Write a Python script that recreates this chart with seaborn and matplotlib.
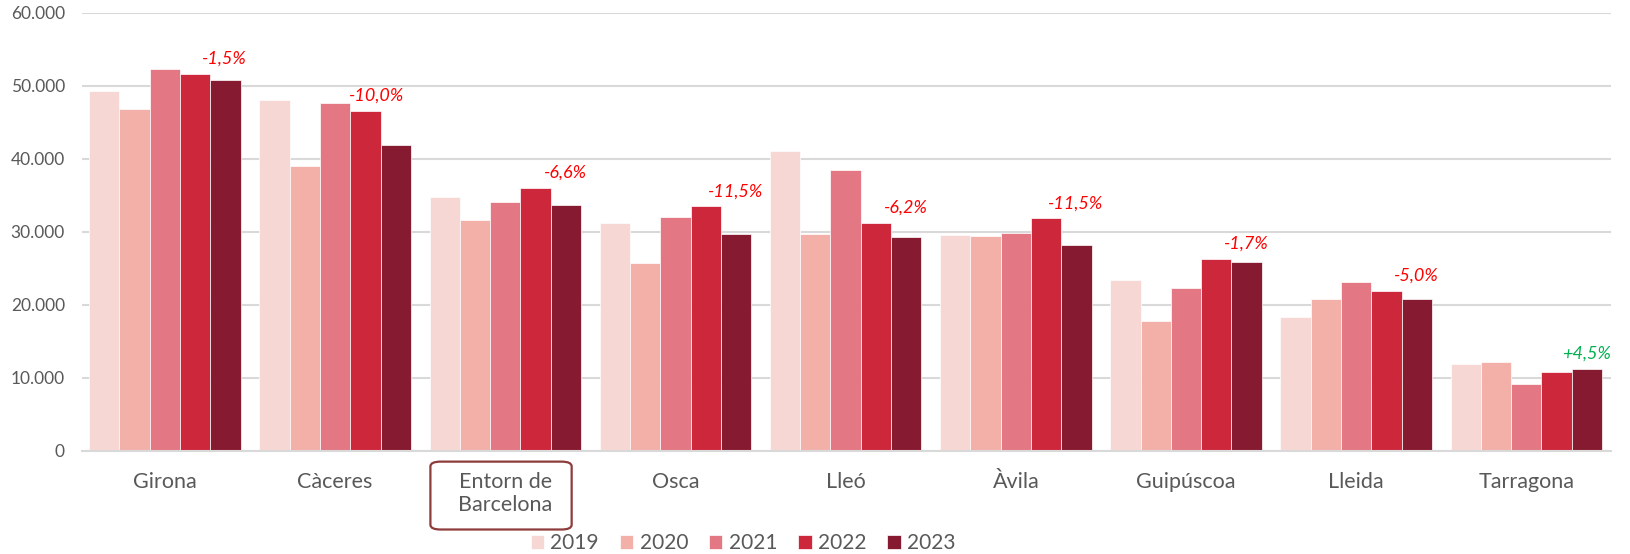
import pandas as pd
import matplotlib.pyplot as plt
import matplotlib.transforms as mtransforms
from matplotlib.patches import FancyBboxPatch
from matplotlib.ticker import FuncFormatter
import seaborn as sns

# data
provinces = ["Girona", "Càceres", "Entorn de\nBarcelona", "Osca", "Lleó",
             "Àvila", "Guipúscoa", "Lleida", "Tarragona"]
years = ["2019", "2020", "2021", "2022", "2023"]
v2019 = [49270, 48000, 34800, 31190, 41050, 29500, 23340, 18320, 11880]
v2020 = [46800, 39000, 31600, 25670, 29680, 29410, 17770, 20780, 12110]
v2021 = [52330, 47670, 34100, 32010, 38490, 29780, 22330, 23070, 9140]
v2022 = [51600, 46530, 36030, 33480, 31190, 31830, 26300, 21920, 10780]
v2023 = [50830, 41920, 33620, 29640, 29270, 28170, 25850, 20780, 11230]
change = [-1.5, -10.0, -6.6, -11.5, -6.2, -11.5, -1.7, -5.0, 4.5]

colors = ["#F7D7D3", "#F2B0A8", "#E47784", "#CD273C", "#861A30"]

rows = []
for yr, vals in zip(years, [v2019, v2020, v2021, v2022, v2023]):
    for prov, v in zip(provinces, vals):
        rows.append({"province": prov, "year": yr, "value": v})
df = pd.DataFrame(rows)

sns.set_style("white")
plt.rcParams["font.family"] = ["Lato", "DejaVu Sans"]

fig, ax = plt.subplots(figsize=(16.31, 5.54), dpi=100)
fig.subplots_adjust(left=0.05, right=0.988, top=0.977, bottom=0.1865)

sns.barplot(data=df, x="province", y="value", hue="year", palette=colors,
            saturation=1, width=0.89, gap=0, edgecolor="white", linewidth=0.5, ax=ax)

ax.set_ylim(0, 60000)
ax.set_xlim(-0.49, 8.5)
ax.set_yticks(range(0, 60001, 10000))
ax.yaxis.set_major_formatter(FuncFormatter(lambda v, p: f"{int(v):,}".replace(",", ".")))
ax.grid(axis="y", color="#D9D9D9", linewidth=1.5)
ax.set_axisbelow(True)
sns.despine(ax=ax, left=True, top=True, right=True)
ax.spines["bottom"].set_color("#D9D9D9")
ax.spines["bottom"].set_linewidth(1.5)
ax.set_xlabel("")
ax.set_ylabel("")
ax.tick_params(axis="y", labelsize=12.5, colors="#595959", length=0, pad=12)
ax.tick_params(axis="x", labelsize=15.5, colors="#595959", length=0, pad=15)
for lbl in ax.get_xticklabels():
    lbl.set_linespacing(1.2)

# percentage change labels (placed over the 2023 bar, Càceres sits a bit left)
bw = 0.89 / 5
nudge = {1: -0.11}
for i, c in enumerate(change):
    top = max(v2022[i], v2023[i])
    txt = f"{c:+.1f}%".replace(".", ",")
    ax.annotate(txt, (i + 1.5 * bw + 0.085 + nudge.get(i, 0), top),
                xytext=(0, 5), textcoords="offset points",
                ha="center", va="bottom", fontsize=13, style="italic",
                color="#00B050" if c > 0 else "#FF0000")

# rounded box around "Entorn de Barcelona"
trans = mtransforms.blended_transform_factory(ax.transData, ax.transAxes)
box = FancyBboxPatch((2 - 0.44, -0.180), 0.83, 0.155,
                     boxstyle="round,pad=0,rounding_size=0.06",
                     mutation_aspect=0.18, transform=trans, clip_on=False,
                     fc="none", ec="#8E3B3B", lw=1.6)
ax.add_patch(box)

handles, labels = ax.get_legend_handles_labels()
ax.legend(handles, labels, loc="center", bbox_to_anchor=(0.4556, 0.02),
          bbox_transform=fig.transFigure, ncol=5, frameon=False, fontsize=15,
          handlelength=0.65, handleheight=0.65, handletextpad=0.3,
          columnspacing=1.0, labelcolor="#595959")

fig.savefig("out.png", dpi=100)
